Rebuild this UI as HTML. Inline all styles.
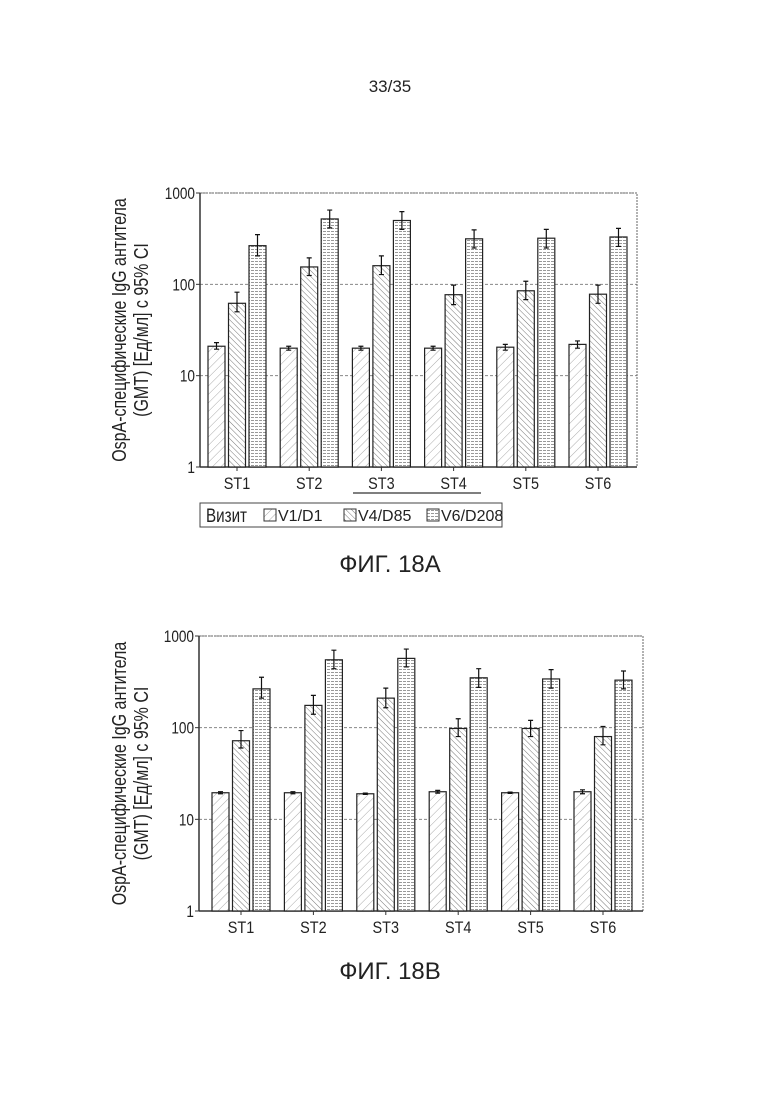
<!DOCTYPE html>
<html><head><meta charset="utf-8">
<style>
body{margin:0;background:#fff;}
svg{display:block;}
text{font-family:"Liberation Sans",sans-serif;fill:#222;}
</style></head>
<body>
<svg id="root" width="780" height="1103" viewBox="0 0 780 1103" xmlns="http://www.w3.org/2000/svg">
<defs>
<pattern id="pV1" width="6" height="6" patternUnits="userSpaceOnUse" patternTransform="rotate(45)"><rect width="6" height="6" fill="#fff"/><line x1="0" y1="0" x2="0" y2="6" stroke="#aaa" stroke-width="1"/></pattern>
<pattern id="pV4" width="4" height="4" patternUnits="userSpaceOnUse" patternTransform="rotate(-45)"><rect width="4" height="4" fill="#fff"/><line x1="0" y1="0" x2="0" y2="4" stroke="#777" stroke-width="1"/></pattern>
<pattern id="pV6" width="4" height="3" patternUnits="userSpaceOnUse"><rect width="4" height="3" fill="#fff"/><line x1="0" y1="0.5" x2="4" y2="0.5" stroke="#999" stroke-width="1" stroke-dasharray="2,1"/></pattern>
</defs>
<text x="390" y="92" font-size="17" text-anchor="middle">33/35</text>
<g id="chartA"></g>
<g id="chartB"></g>
<text x="390" y="572" font-size="24" text-anchor="middle">ФИГ. 18A</text>
<text x="390" y="979" font-size="24" text-anchor="middle">ФИГ. 18B</text>
</svg>
<script>
const categories = ["ST1","ST2","ST3","ST4","ST5","ST6"];
const seriesNames = ["V1/D1","V4/D85","V6/D208"];
const tickValues = [1,10,100,1000];
const tickLabels = ["1","10","100","1000"];
// Figure 18A
const aV1 = [21,20,20,20,20.5,22];
const aV4 = [62,155,160,77,85,78];
const aV6 = [265,520,500,315,320,330];
const aV1lo = [19.5,19,19,19,19,20]; const aV1hi = [23,21,21,21,22,24];
const aV4lo = [50,125,128,60,68,62]; const aV4hi = [82,195,205,98,108,98];
const aV6lo = [205,415,400,250,250,260]; const aV6hi = [350,650,625,395,400,410];
// Figure 18B
const bV1 = [19.5,19.5,19,20,19.5,20];
const bV4 = [72,175,210,98,98,80];
const bV6 = [265,550,570,350,340,330];
const bV1lo = [19,19,18.7,19.3,19.2,19]; const bV1hi = [20,20,19.3,20.7,19.8,21];
const bV4lo = [60,140,165,80,80,65]; const bV4hi = [93,225,270,125,120,103];
const bV6lo = [210,440,460,275,270,265]; const bV6hi = [355,700,720,440,430,415];

const NS="http://www.w3.org/2000/svg";
function mk(parent,tag,attrs){const e=document.createElementNS(NS,tag);for(const k in attrs)e.setAttribute(k,attrs[k]);parent.appendChild(e);return e;}

function drawChart(g,cfg,vals,los,his){
  const yScale=v=>cfg.y1-(Math.log10(v))*(cfg.y1-cfg.y1000)/3;
  const xCenter=i=>cfg.c0+i*cfg.step;
  tickValues.forEach((t,k)=>{
    const y=yScale(t);
    if(t>1){const l=mk(g,'line',{x1:cfg.x0,x2:cfg.x1,y1:y,y2:y,stroke:'#888','stroke-dasharray':'3,2','stroke-width':1});
      
      }
    const tk=mk(g,'line',{x1:cfg.x0-4,x2:cfg.x0,y1:y,y2:y,stroke:'#333'});
    
    
    const tx=mk(g,'text',{x:cfg.x0-5,y:y+6,'font-size':17,'text-anchor':'end',transform:`translate(${cfg.x0-5},0) scale(0.8,1) translate(${-(cfg.x0-5)},0)`});
    tx.textContent=tickLabels[k];
    
    
  });
  const fr=mk(g,'rect',{x:cfg.x0,y:cfg.y1000,width:cfg.x1-cfg.x0,height:cfg.y1-cfg.y1000,fill:'none',stroke:'#666','stroke-dasharray':'2,1'});
  
  
  const ax=mk(g,'line',{x1:cfg.x0,x2:cfg.x1,y1:cfg.y1,y2:cfg.y1,stroke:'#333','stroke-width':1.5});
  
  
  const ay=mk(g,'line',{x1:cfg.x0,x2:cfg.x0,y1:cfg.y1000,y2:cfg.y1,stroke:'#333','stroke-width':1.5});
  
  
  const pats=['url(#pV1)','url(#pV4)','url(#pV6)'];
  const bw=17, gap=3.5;
  categories.forEach((c,i)=>{
    const cx=xCenter(i);
    for(let s=0;s<3;s++){
      const bx=cx-bw/2+(s-1)*(bw+gap);
      const yv=yScale(vals[s][i]);
      const r=mk(g,'rect',{x:bx,y:yv,width:bw,height:cfg.y1-yv,fill:pats[s],stroke:'#222','stroke-width':1.2});
      
      
      const ex=bx+bw/2, ylo=yScale(los[s][i]), yhi=yScale(his[s][i]);
      const eb=mk(g,'path',{d:`M${ex},${yhi}V${ylo}M${ex-2.5},${yhi}H${ex+2.5}M${ex-2.5},${ylo}H${ex+2.5}`,stroke:'#111','stroke-width':1.2,fill:'none'});
      
      
    }
    const tk=mk(g,'line',{x1:cx,x2:cx,y1:cfg.y1,y2:cfg.y1+4,stroke:'#333'});
    
    
    const t=mk(g,'text',{x:cx,y:cfg.y1+22,'font-size':17,'text-anchor':'middle',transform:`translate(${cx},0) scale(0.85,1) translate(${-cx},0)`});
    t.textContent=c;
    
    
  });
  const cyT=(cfg.y1+cfg.y1000)/2;
  const yt=mk(g,'text',{'font-size':20,'text-anchor':'middle',transform:`translate(${cfg.tx},${cyT}) rotate(-90) scale(0.8,1)`});
  
  
  const t1=mk(yt,'tspan',{x:0,y:-3}); t1.textContent='OspA-специфические IgG антитела';
  const t2=mk(yt,'tspan',{x:0,y:19}); t2.textContent='(GMT) [Ед/мл] с 95% CI';
}
drawChart(document.getElementById('chartA'),{x0:200,x1:637,y1:467,y1000:193,c0:237,step:72.2,tx:129},[aV1,aV4,aV6],[aV1lo,aV4lo,aV6lo],[aV1hi,aV4hi,aV6hi]);
drawChart(document.getElementById('chartB'),{x0:199,x1:643,y1:911,y1000:636,c0:241,step:72.4,tx:129},[bV1,bV4,bV6],[bV1lo,bV4lo,bV6lo],[bV1hi,bV4hi,bV6hi]);

const gA=document.getElementById('chartA');
const ul=mk(gA,'line',{x1:353,x2:481,y1:493,y2:493,stroke:'#333','stroke-width':1.2});


const lg=mk(gA,'g',{});


mk(lg,'rect',{x:200,y:503,width:302,height:24,fill:'#fff',stroke:'#444','stroke-width':1});
const lt=mk(lg,'text',{x:206,y:522,'font-size':19,transform:'translate(206,0) scale(0.8,1) translate(-206,0)'});
lt.textContent='Визит';
const lx=[264,344,427]; const lp=['url(#pV1)','url(#pV4)','url(#pV6)'];
seriesNames.forEach((n,s)=>{
  const e=mk(lg,'g',{});
  
  
  mk(e,'rect',{x:lx[s],y:509,width:12,height:12,fill:lp[s],stroke:'#333'});
  const t=mk(e,'text',{x:lx[s]+14,y:521,'font-size':16});
  t.textContent=n;
});
</script>
</body></html>
